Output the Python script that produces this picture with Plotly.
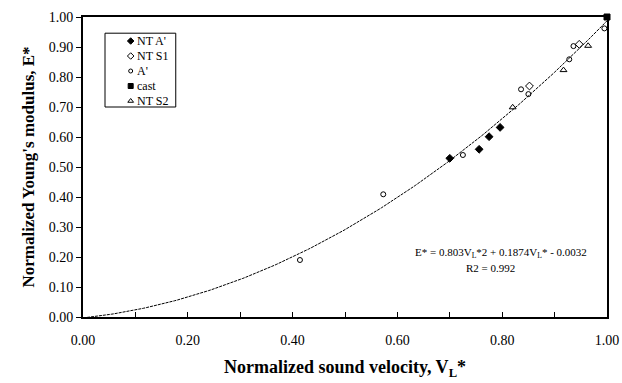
import numpy as np
import plotly.graph_objects as go

# data
nt_a_x = [0.700, 0.756, 0.775, 0.796]
nt_a_y = [0.529, 0.559, 0.601, 0.632]
nt_s1_x = [0.852, 0.947]
nt_s1_y = [0.770, 0.909]
a_x = [0.414, 0.573, 0.725, 0.836, 0.850, 0.928, 0.936, 0.995]
a_y = [0.190, 0.409, 0.540, 0.759, 0.743, 0.859, 0.903, 0.962]
cast_x = [1.0]
cast_y = [1.0]
nt_s2_x = [0.820, 0.917, 0.964]
nt_s2_y = [0.699, 0.823, 0.904]
fit_coef = [0.803, 0.1874, -0.0032]

legend_labels = ["NT A'", "NT S1", "A'", "cast", "NT S2"]
legend_symbols = ["diamond", "diamond-open", "circle-open", "square", "triangle-up-open"]

serif = "Liberation Serif"

fig = go.Figure()
fx = np.linspace(0, 1, 201)
fy = fit_coef[0] * fx**2 + fit_coef[1] * fx + fit_coef[2]
fig.add_trace(go.Scatter(x=fx, y=fy, mode="lines", showlegend=False,
                         line=dict(color="black", width=1, dash="3px,1px")))

series = [(nt_a_x, nt_a_y), (nt_s1_x, nt_s1_y), (a_x, a_y), (cast_x, cast_y), (nt_s2_x, nt_s2_y)]
sizes = [6, 6, 5, 6, 6]
for (sx, sy), name, sym, sz in zip(series, legend_labels, legend_symbols, sizes):
    fig.add_trace(go.Scatter(x=sx, y=sy, mode="markers", name=name, showlegend=False,
                             cliponaxis=False,
                             marker=dict(symbol=sym, color="black", size=sz, line=dict(width=1, color="black"))))

# compact legend drawn on an overlay axis in paper units
leg_left, leg_right, leg_top, leg_bottom = 0.042, 0.177, 0.946, 0.70
row0, row_step = 0.92, 0.05
marker_x = 0.091
for i, (name, sym, sz) in enumerate(zip(legend_labels, legend_symbols, sizes)):
    ry = row0 - i * row_step
    fig.add_trace(go.Scatter(x=[marker_x], y=[ry], xaxis="x2", yaxis="y2", mode="markers",
                             showlegend=False, hoverinfo="skip",
                             marker=dict(symbol=sym, color="black", size=sz - 1, line=dict(width=1, color="black"))))
    fig.add_annotation(x=marker_x + 0.008, y=ry, xref="x2", yref="y2", text=name, showarrow=False,
                       xanchor="left", yanchor="middle", font=dict(family=serif, size=12))
fig.add_shape(type="rect", xref="x2", yref="y2", x0=leg_left, x1=leg_right, y0=leg_bottom, y1=leg_top,
              line=dict(color="black", width=1), fillcolor="rgba(0,0,0,0)")

fig.update_layout(
    width=622, height=383,
    margin=dict(l=83, r=15, t=17, b=66, autoexpand=False),
    paper_bgcolor="white", plot_bgcolor="white",
    font=dict(family=serif, color="black", size=14),
    showlegend=False,
    xaxis=dict(range=[0, 1], dtick=0.2, tickformat=".2f", ticks="inside", ticklen=5,
               tickcolor="black", showgrid=False, zeroline=False, automargin=False,
               showline=True, linecolor="black", linewidth=2, mirror=True,
               minor=dict(dtick=0.1, ticks="inside", ticklen=5, tickcolor="black"),
               tickfont=dict(size=14), ticklabelstandoff=9,
               title=dict(text="<b>Normalized sound velocity, V<sub>L</sub>*</b>",
                          font=dict(size=18), standoff=14)),
    yaxis=dict(range=[0, 1], dtick=0.1, tickformat=".2f", ticks="outside", ticklen=5,
               tickcolor="black", showgrid=False, zeroline=False, automargin=False,
               showline=True, linecolor="black", linewidth=2, mirror=True,
               tickfont=dict(size=14),
               title=dict(text="<b>Normalized Young's modulus, E*</b>",
                          font=dict(size=17), standoff=10)),
    xaxis2=dict(range=[0, 1], overlaying="x", visible=False, fixedrange=True),
    yaxis2=dict(range=[0, 1], overlaying="y", visible=False, fixedrange=True),
    annotations=list(fig.layout.annotations) + [
        dict(x=0.798, y=0.213, xref="x", yref="y", showarrow=False,
             text="E* = 0.803V<sub>L</sub>*2 + 0.1874V<sub>L</sub>* - 0.0032",
             font=dict(family=serif, size=11)),
        dict(x=0.777, y=0.165, xref="x", yref="y", showarrow=False,
             text="R2 = 0.992", font=dict(family=serif, size=11)),
    ],
)

fig.write_html("out.html")
